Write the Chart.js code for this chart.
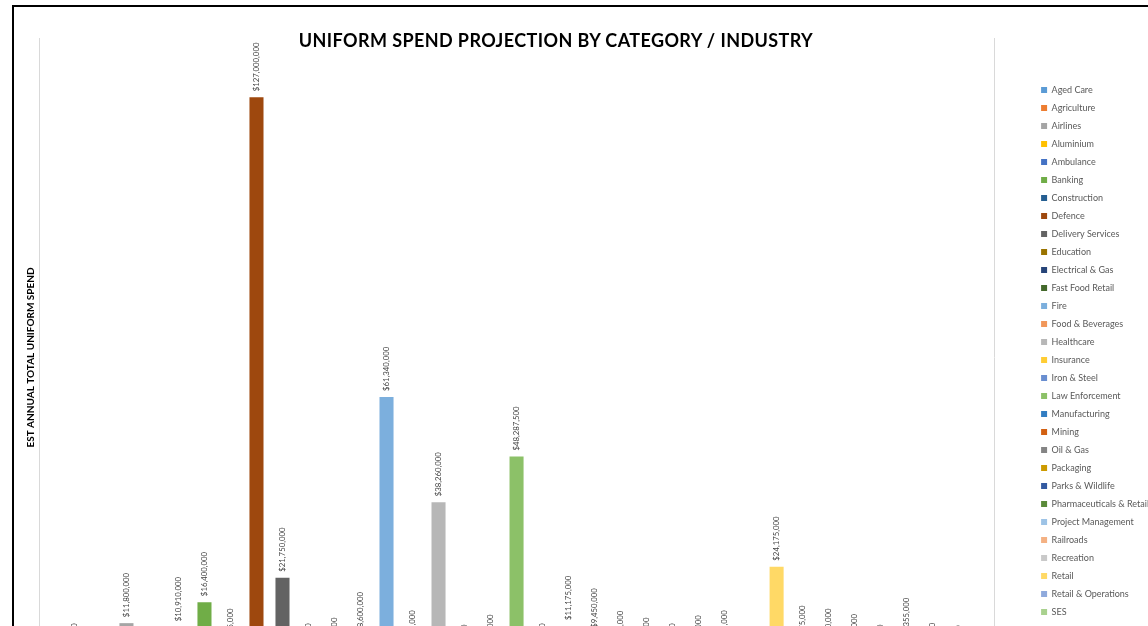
<!DOCTYPE html>
<html>
<head>
<meta charset="utf-8">
<script src="https://cdn.jsdelivr.net/npm/chart.js@4.4.1/dist/chart.umd.min.js"></script>
<style>
  body { margin: 0; background: #fff; overflow: hidden; width: 1148px; height: 626px; position: relative; }
  .frame { position: absolute; left: 12px; top: 5px; border: 2px solid #000; background: #fff; }
  .frame h1 {
    position: absolute; left: 0; width: 1084px; top: 22px; margin: 0;
    text-align: center; font: bold 18px Lato, sans-serif; letter-spacing: 0.4px; color: #000;
  }
  canvas { display: block; }
</style>
</head>
<body>
<div class="frame">
  <h1>UNIFORM SPEND PROJECTION BY CATEGORY / INDUSTRY</h1>
  <canvas id="spendChart" width="1145" height="747"></canvas>
</div>
<script>
// one bar (series) per industry, like the Excel source
const categories = [
  'Aged Care', 'Agriculture', 'Airlines', 'Aluminium', 'Ambulance', 'Banking',
  'Construction', 'Defence', 'Delivery Services', 'Education', 'Electrical & Gas',
  'Fast Food Retail', 'Fire', 'Food & Beverages', 'Healthcare', 'Insurance',
  'Iron & Steel', 'Law Enforcement', 'Manufacturing', 'Mining', 'Oil & Gas',
  'Packaging', 'Parks & Wildlife', 'Pharmaceuticals & Retail', 'Project Management',
  'Railroads', 'Recreation', 'Retail', 'Retail & Operations', 'SES',
  'Security', 'Telecommunications', 'Tourism & Hospitality', 'Transport & Logistics', 'Utilities'
];

const spendValues = [
  1750000, 950000, 11800000, 1100000, 10910000, 16400000,
  4975000, 127000000, 21750000, 1750000, 3000000,
  8600000, 61340000, 4600000, 38260000, 1500000,
  3700000, 48287500, 1750000, 11175000, 9450000,
  4500000, 3000000, 1750000, 3500000,
  4600000, 900000, 24175000, 5675000, 5000000,
  3800000, 1500000, 7355000, 1900000, 1300000
];

const barColors = [
  '#5B9BD5', '#ED7D31', '#A5A5A5', '#FFC000', '#4472C4', '#70AD47',
  '#255E91', '#9E480E', '#636363', '#997300', '#264478',
  '#43682B', '#7CAFDD', '#F1975A', '#B7B7B7', '#FFCD33',
  '#698ED0', '#8CC168', '#327DC2', '#D26012', '#848484',
  '#CC9A00', '#335AA1', '#5A8A39', '#9DC3E6',
  '#F4B183', '#C9C9C9', '#FFD966', '#8FAADC', '#A9D18E',
  '#1F4E79', '#843C0C', '#525252', '#7F6000', '#203864'
];

const tickLabels = [''];

function money(v) {
  return '$' + v.toLocaleString('en-US');
}

// rotated value labels above each bar
const valueLabels = {
  id: 'valueLabels',
  afterDatasetsDraw(chart) {
    const ctx = chart.ctx;
    ctx.save();
    ctx.font = '7.8px Lato, sans-serif';
    ctx.fillStyle = '#404040';
    ctx.textAlign = 'left';
    ctx.textBaseline = 'middle';
    chart.data.datasets.forEach((ds, i) => {
      const meta = chart.getDatasetMeta(i);
      meta.data.forEach((bar, j) => {
        ctx.save();
        ctx.translate(bar.x, bar.y - 6);
        ctx.rotate(-Math.PI / 2);
        ctx.fillText(money(ds.data[j]), 0, 0);
        ctx.restore();
      });
    });
    ctx.restore();
  }
};

document.addEventListener('DOMContentLoaded', function() {
  const ctx = document.getElementById('spendChart').getContext('2d');
  new Chart(ctx, {
    type: 'bar',
    data: {
      labels: tickLabels,
      datasets: categories.map((name, i) => ({
        label: name,
        data: [spendValues[i]],
        backgroundColor: barColors[i],
        categoryPercentage: 0.953,
        barPercentage: 0.54
      }))
    },
    options: {
      responsive: false,
      animation: false,
      layout: { padding: { top: 31, left: 0, right: 0, bottom: 0 } },
      plugins: {
        title: { display: false },
        tooltip: { enabled: false },
        legend: {
          position: 'right',
          labels: {
            boxWidth: 6,
            boxHeight: 6,
            padding: 9,
            color: '#595959',
            font: { family: 'Lato, sans-serif', size: 9 }
          }
        }
      },
      scales: {
        x: {
          grid: { display: true, offset: true, color: '#D9D9D9', drawTicks: false },
          border: { display: false },
          ticks: { display: false },
          afterFit: s => { s.height = 77; }
        },
        y: {
          min: 0,
          max: 140000000,
          grid: { display: false },
          border: { display: false },
          ticks: { display: false },
          title: {
            display: true,
            text: 'EST ANNUAL TOTAL UNIFORM SPEND',
            color: '#000',
            padding: { top: 11, bottom: 2 },
            font: { family: 'Lato, sans-serif', size: 10, weight: 'bold' }
          },
          afterFit: s => { s.width = 25; }
        },
        gap: {
          position: 'right',
          grid: { display: false },
          border: { display: false },
          ticks: { display: false },
          afterFit: s => { s.width = 38; }
        }
      }
    },
    plugins: [valueLabels]
  });
});
</script>
</body>
</html>
